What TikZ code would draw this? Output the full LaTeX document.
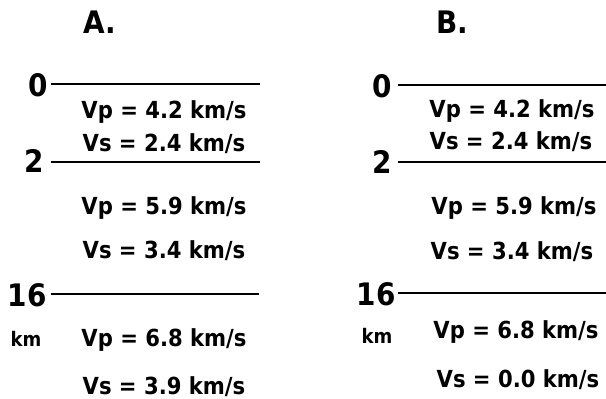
\documentclass[tikz,border=0pt]{standalone}
\usepackage{fontspec}
\setmainfont{DejaVu Sans Condensed}
\tikzset{
  vel/.style={anchor=base,inner sep=0pt,font=\fontsize{23.5}{26}\selectfont\bfseries},
  depth/.style={anchor=base,inner sep=0pt,font=\fontsize{31}{34}\selectfont\bfseries},
  hdr/.style={anchor=base,inner sep=0pt,font=\fontsize{31}{34}\selectfont\bfseries},
  unit/.style={anchor=base,inner sep=0pt,font=\fontsize{20}{22}\selectfont\bfseries},
  layer/.style={line width=1.4pt}
}
\begin{document}
\begin{tikzpicture}[x=1pt,y=-1pt]
\useasboundingbox (0,0) rectangle (606,399);
% panel A
\node[hdr] (hA) at (100,33) {A.};
\node[depth] (a0) at (38,96) {0};
\node[depth] (a2) at (34,172) {2};
\node[depth] (a16) at (27,306) {16};
\node[unit] (akm) at (26,346) {km};
\coordinate (a0l) at (51,84);  \coordinate (a0r) at (260,84);
\coordinate (a2l) at (51,162); \coordinate (a2r) at (260,162);
\coordinate (a16l) at (51,294); \coordinate (a16r) at (259,294);
\draw[layer] (a0l) -- (a0r);
\draw[layer] (a2l) -- (a2r);
\draw[layer] (a16l) -- (a16r);
\node[vel] (avp1) at (164,118) {Vp = 4.2 km/s};
\node[vel] (avs1) at (164,151) {Vs = 2.4 km/s};
\node[vel] (avp2) at (164,214) {Vp = 5.9 km/s};
\node[vel] (avs2) at (164,258) {Vs = 3.4 km/s};
\node[vel] (avp3) at (164,346) {Vp = 6.8 km/s};
\node[vel] (avs3) at (164,394) {Vs = 3.9 km/s};
% panel B
\node[hdr] (hB) at (452,33) {B.};
\node[depth] (b0) at (382,97) {0};
\node[depth] (b2) at (382,173) {2};
\node[depth] (b16) at (376,305) {16};
\node[unit] (bkm) at (377,343) {km};
\coordinate (b0l) at (398,85);  \coordinate (b0r) at (606,85);
\coordinate (b2l) at (398,162); \coordinate (b2r) at (606,162);
\coordinate (b16l) at (398,293); \coordinate (b16r) at (606,293);
\draw[layer] (b0l) -- (b0r);
\draw[layer] (b2l) -- (b2r);
\draw[layer] (b16l) -- (b16r);
\node[vel] (bvp1) at (512,117) {Vp = 4.2 km/s};
\node[vel] (bvs1) at (511,149) {Vs = 2.4 km/s};
\node[vel] (bvp2) at (514,214) {Vp = 5.9 km/s};
\node[vel] (bvs2) at (512,259) {Vs = 3.4 km/s};
\node[vel] (bvp3) at (516,338) {Vp = 6.8 km/s};
\node[vel] (bvs3) at (518,387) {Vs = 0.0 km/s};
\end{tikzpicture}
\end{document}
